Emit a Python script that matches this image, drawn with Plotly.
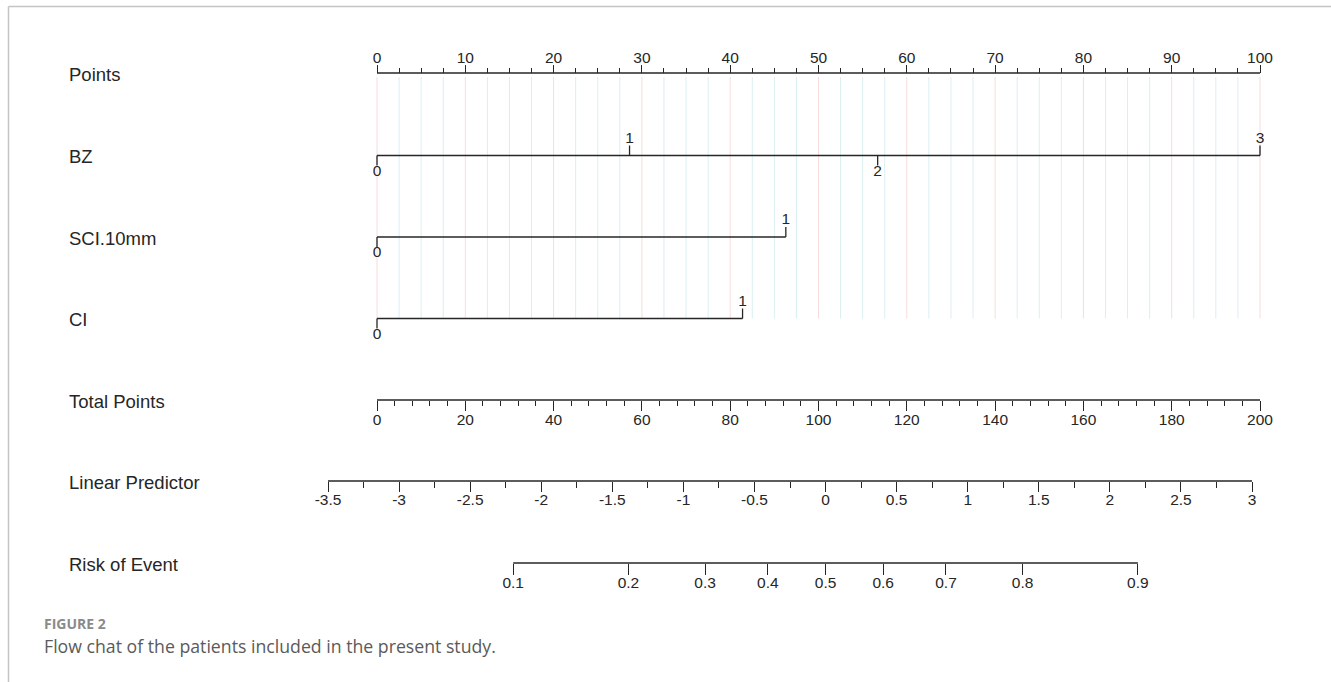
import numpy as np
import plotly.graph_objects as go

W, H = 1331, 682

# ---------------- data ----------------
points_ticks = [0, 10, 20, 30, 40, 50, 60, 70, 80, 90, 100]
points_minor_step = 2.5

bz_levels = ["0", "1", "2", "3"]
bz_points = [0, 28.6, 56.7, 100]
bz_side = ["down", "up", "down", "up"]

sci_levels = ["0", "1"]
sci_points = [0, 46.3]
sci_side = ["down", "up"]

ci_levels = ["0", "1"]
ci_points = [0, 41.4]
ci_side = ["down", "up"]

total_ticks = [0, 20, 40, 60, 80, 100, 120, 140, 160, 180, 200]
total_minor_step = 4

lp_ticks = [-3.5, -3, -2.5, -2, -1.5, -1, -0.5, 0, 0.5, 1, 1.5, 2, 2.5, 3]
lp_labels = ["-3.5", "-3", "-2.5", "-2", "-1.5", "-1", "-0.5", "0", "0.5", "1", "1.5", "2", "2.5", "3"]
lp_minor_step = 0.25

risk_ticks = [0.1, 0.2, 0.3, 0.4, 0.5, 0.6, 0.7, 0.8, 0.9]
risk_labels = ["0.1", "0.2", "0.3", "0.4", "0.5", "0.6", "0.7", "0.8", "0.9"]

row_names = ["Points", "BZ", "SCI.10mm", "CI", "Total Points", "Linear Predictor", "Risk of Event"]

# ---------------- layout constants ----------------
ROW_Y = [73, 155.5, 237, 318.5, 400, 481, 563]   # pixel rows
LABEL_X = 67
FONT = "Liberation Sans, Arial, Helvetica, sans-serif"
INK = "#262626"
TICK_FONT = dict(family=FONT, size=15.5, color=INK)


def axis_range(v0, px0, v1, px1):
    k = (px1 - px0) / (v1 - v0)
    return [v0 - px0 / k, v0 + (W - px0) / k]


def ypos(py):
    return 1 - py / H


pts_range = axis_range(0, 377, 100, 1260)
tot_range = axis_range(0, 377, 200, 1260)
lp_range = axis_range(-3.5, 328, 3, 1252)

logit = lambda p: float(np.log(p / (1 - p)))
risk_pos = [logit(p) for p in risk_ticks]

fig = go.Figure()

# ---- grid lines behind the variable rows ----
grid_vals = np.arange(points_ticks[0], points_ticks[-1] + 1e-9, points_minor_step)
gx_major, gy_major, gx_minor, gy_minor = [], [], [], []
for v in grid_vals:
    if abs(v % 10) < 1e-9:
        gx_major += [v, v, None]
        gy_major += [77, ROW_Y[3], None]
    else:
        gx_minor += [v, v, None]
        gy_minor += [77, ROW_Y[3], None]
fig.add_trace(go.Scatter(x=gx_minor, y=gy_minor, mode="lines", xaxis="x", yaxis="y",
                         line=dict(color="#d9eff2", width=1), hoverinfo="skip", showlegend=False))
fig.add_trace(go.Scatter(x=gx_major, y=gy_major, mode="lines", xaxis="x", yaxis="y",
                         line=dict(color="#f8dcdc", width=1), hoverinfo="skip", showlegend=False))

LINE = dict(color=INK, width=1.5)

# ---- axis lines for the scale rows ----
fig.add_trace(go.Scatter(x=[points_ticks[0], points_ticks[-1]], y=[ROW_Y[0]] * 2, mode="lines",
                         xaxis="x", yaxis="y", line=LINE, hoverinfo="skip", showlegend=False))
fig.add_trace(go.Scatter(x=[total_ticks[0], total_ticks[-1]], y=[ROW_Y[4]] * 2, mode="lines",
                         xaxis="x2", yaxis="y", line=LINE, hoverinfo="skip", showlegend=False))
fig.add_trace(go.Scatter(x=[lp_ticks[0], lp_ticks[-1]], y=[ROW_Y[5]] * 2, mode="lines",
                         xaxis="x3", yaxis="y", line=LINE, hoverinfo="skip", showlegend=False))
fig.add_trace(go.Scatter(x=[risk_pos[0], risk_pos[-1]], y=[ROW_Y[6]] * 2, mode="lines",
                         xaxis="x4", yaxis="y", line=LINE, hoverinfo="skip", showlegend=False))

# ---- variable rows ----
TICK_LEN = 10
LBL_OFF = 16.5
for row_y, levels, pts, sides in [(ROW_Y[1], bz_levels, bz_points, bz_side),
                                  (ROW_Y[2], sci_levels, sci_points, sci_side),
                                  (ROW_Y[3], ci_levels, ci_points, ci_side)]:
    fig.add_trace(go.Scatter(x=[min(pts), max(pts)], y=[row_y, row_y], mode="lines",
                             xaxis="x", yaxis="y", line=LINE, hoverinfo="skip", showlegend=False))
    tx, ty, lx, ly = [], [], [], []
    for p, s in zip(pts, sides):
        d = -1 if s == "up" else 1
        tx += [p, p, None]
        ty += [row_y, row_y + d * TICK_LEN, None]
        lx.append(p)
        ly.append(row_y + d * LBL_OFF)
    fig.add_trace(go.Scatter(x=tx, y=ty, mode="lines", xaxis="x", yaxis="y",
                             line=dict(color=INK, width=1.3), hoverinfo="skip", showlegend=False))
    fig.add_trace(go.Scatter(x=lx, y=ly, mode="text", text=levels, textposition="middle center",
                             textfont=TICK_FONT, xaxis="x", yaxis="y", cliponaxis=False,
                             hoverinfo="skip", showlegend=False))


def minor_vals(ticks, step):
    vals = np.arange(ticks[0], ticks[-1] + 1e-9, step)
    return [float(v) for v in vals if min(abs(v - t) for t in ticks) > 1e-9]


common = dict(domain=[0, 1], anchor="free", showline=False, showgrid=False, zeroline=False,
              ticks="outside", tickcolor=INK, tickwidth=1.3, tickfont=TICK_FONT,
              tickmode="array", automargin=False, fixedrange=True)

layout_axes = dict(
    xaxis=dict(range=pts_range, position=ypos(ROW_Y[0]), side="top",
               tickvals=points_ticks, ticklen=8, ticklabelstandoff=-4,
               minor=dict(tickmode="array", tickvals=minor_vals(points_ticks, points_minor_step),
                          ticklen=5, ticks="outside", tickcolor=INK, tickwidth=1.2, showgrid=False),
               **common),
    xaxis2=dict(range=tot_range, position=ypos(ROW_Y[4]), side="bottom",
                tickvals=total_ticks, ticklen=10, ticklabelstandoff=-5,
                minor=dict(tickmode="array", tickvals=minor_vals(total_ticks, total_minor_step),
                           ticklen=5, ticks="outside", tickcolor=INK, tickwidth=1.2, showgrid=False),
                overlaying="x", **common),
    xaxis3=dict(range=lp_range, position=ypos(ROW_Y[5]), side="bottom",
                tickvals=lp_ticks, ticktext=lp_labels, ticklen=10, ticklabelstandoff=-6,
                minor=dict(tickmode="array", tickvals=minor_vals(lp_ticks, lp_minor_step),
                           ticklen=6, ticks="outside", tickcolor=INK, tickwidth=1.2, showgrid=False),
                overlaying="x", **common),
    xaxis4=dict(range=lp_range, position=ypos(ROW_Y[6]), side="bottom",
                tickvals=risk_pos, ticktext=risk_labels, ticklen=11, ticklabelstandoff=-6,
                overlaying="x", **common),
    yaxis=dict(domain=[0, 1], range=[H, 0], visible=False, fixedrange=True),
)

annotations = []
for name, ry in zip(row_names, ROW_Y):
    annotations.append(dict(text=name, xref="paper", yref="paper", x=LABEL_X / W, y=ypos(ry + 1),
                            xanchor="left", yanchor="middle", showarrow=False,
                            font=dict(family=FONT, size=18.5, color=INK)))
annotations.append(dict(text="<b>FIGURE 2</b>", xref="paper", yref="paper", x=42 / W, y=ypos(623),
                        xanchor="left", yanchor="middle", showarrow=False,
                        font=dict(family="Open Sans, Noto Sans, sans-serif", size=14, color="#8a8a8a")))
annotations.append(dict(text="Flow chat of the patients included in the present study.",
                        xref="paper", yref="paper", x=42 / W, y=ypos(646),
                        xanchor="left", yanchor="middle", showarrow=False,
                        font=dict(family="Open Sans, Noto Sans, sans-serif", size=17.7, color="#5a5a5a")))

shapes = [
    dict(type="line", xref="paper", yref="paper", x0=8.5 / W, x1=1, y0=ypos(6.5), y1=ypos(6.5),
         line=dict(color="#c4c4c4", width=1.5)),
    dict(type="line", xref="paper", yref="paper", x0=8.5 / W, x1=8.5 / W, y0=ypos(6.5), y1=0,
         line=dict(color="#c4c4c4", width=1.5)),
]

fig.update_layout(
    width=W, height=H, margin=dict(l=0, r=0, t=0, b=0, pad=0),
    template="none", paper_bgcolor="white", plot_bgcolor="white",
    showlegend=False, annotations=annotations, shapes=shapes,
    **layout_axes,
)

fig.write_html("out.html", config={"displayModeBar": False})
